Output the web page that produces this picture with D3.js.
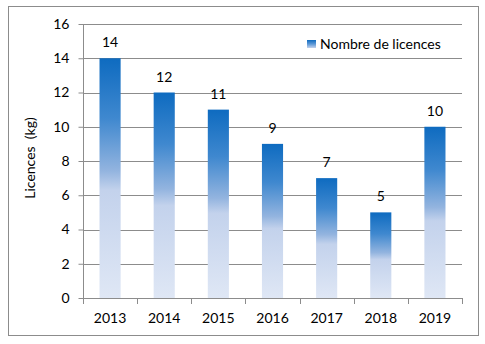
<!DOCTYPE html>
<html><head><meta charset="utf-8">
<script src="https://cdn.jsdelivr.net/npm/d3@7"></script>
<style>body{margin:0;background:#fff}svg{display:block}text{font-family:Lato,"Open Sans",sans-serif;fill:#000}</style>
</head><body><svg id="c" width="485" height="344"></svg>
<script>
const categories = ["2013","2014","2015","2016","2017","2018","2019"];
const values = [14,12,11,9,7,5,10];
const yTicks = [0,2,4,6,8,10,12,14,16];
const seriesName = "Nombre de licences";
const yTitle = "Licences  (kg)";

(function(){
const svg = d3.select("#c");
svg.append("rect").attr("x",8.5).attr("y",6.5).attr("width",470).attr("height",329)
  .attr("fill","#fff").attr("stroke","#8c8c8c").attr("stroke-width",1);

const defs = svg.append("defs");
const g = defs.append("linearGradient").attr("id","grad").attr("x1",0).attr("y1",0).attr("x2",0).attr("y2",1);
[[0,"#0e6bc0"],[0.25,"#3f88cf"],[0.47,"#93b4df"],[0.55,"#c3d2ec"],[1,"#dfe7f5"]].forEach(([o,c])=>g.append("stop").attr("offset",o).attr("stop-color",c));
const lg = defs.append("linearGradient").attr("id","lgrad").attr("x1",0).attr("y1",0).attr("x2",0).attr("y2",1);
[[0,"#0e6bc0"],[0.5,"#5b97d6"],[1,"#c3d2ec"]].forEach(([o,c])=>lg.append("stop").attr("offset",o).attr("stop-color",c));

const pL=83,pR=462,pT=24,pB=298;
const x = d3.scaleBand().domain(categories).range([pL,pR]).paddingInner(0.61).paddingOuter(0.305);
const xb = d3.scaleBand().domain(categories).range([pL,pR]);
const y = d3.scaleLinear().domain([0,16]).range([pB,pT]);

// gridlines
svg.append("g").selectAll("line").data(yTicks.filter(d=>d>0)).join("line")
  .attr("x1",pL).attr("x2",pR).attr("y1",d=>Math.round(y(d))+0.5).attr("y2",d=>Math.round(y(d))+0.5)
  .attr("stroke","#8c8c8c").attr("stroke-width",1);

// bars
svg.append("g").selectAll("rect").data(values).join("rect")
  .attr("x",(d,i)=>x(categories[i])).attr("width",x.bandwidth())
  .attr("y",d=>y(d)).attr("height",d=>pB-y(d)).attr("fill","url(#grad)");

// data labels
svg.append("g").selectAll("text").data(values).join("text")
  .attr("x",(d,i)=>x(categories[i])+x.bandwidth()/2).attr("y",d=>y(d)-11)
  .attr("text-anchor","middle").attr("font-size",14).text(d=>d);

// y axis
const ya = svg.append("g").attr("transform",`translate(${pL+0.5},0)`)
  .call(d3.axisLeft(y).tickValues(yTicks).tickSize(5).tickPadding(9));
ya.select(".domain").attr("stroke","#8c8c8c").attr("d",`M0,${pT}V${pB+0.5}`);
ya.selectAll(".tick line").attr("stroke","#8c8c8c");
ya.selectAll("text").attr("font-size",14).attr("font-family","Lato,sans-serif").attr("fill","#000");

// x axis
const xa = svg.append("g").attr("transform",`translate(0,${pB+0.5})`)
  .call(d3.axisBottom(xb).tickSize(0).tickPadding(15));
xa.select(".domain").attr("stroke","#8c8c8c").attr("d",`M${pL},0H${pR}`);
xa.selectAll("text").attr("font-size",14).attr("font-family","Lato,sans-serif").attr("fill","#000");
const edges = categories.map(c=>xb(c)).concat([pR]);
svg.append("g").selectAll("line").data(edges).join("line")
  .attr("x1",d=>Math.round(d)+0.5).attr("x2",d=>Math.round(d)+0.5).attr("y1",pB).attr("y2",pB+6)
  .attr("stroke","#8c8c8c");

// y title
svg.append("text").attr("transform","translate(35,158) rotate(-90)").attr("text-anchor","middle")
  .attr("font-size",14).style("white-space","pre").text(yTitle);

// legend
svg.append("rect").attr("x",307).attr("y",40).attr("width",9).attr("height",8).attr("fill","url(#lgrad)");
svg.append("text").attr("x",320).attr("y",49).attr("font-size",14).text(seriesName);
})();
</script></body></html>
